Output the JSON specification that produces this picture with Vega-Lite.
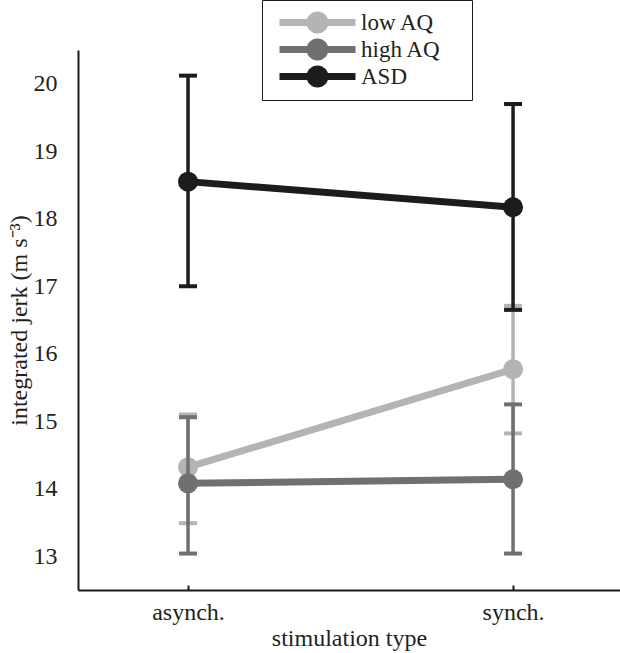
{
  "$schema": "https://vega.github.io/schema/vega-lite/v6.json",
  "width": 542,
  "height": 540,
  "autosize": "none",
  "padding": {"left": 78, "top": 50, "right": 0, "bottom": 63},
  "background": "white",
  "config": {
    "view": {"stroke": null},
    "font": "Liberation Serif",
    "axis": {"grid": false, "domainColor": "#1a1a1a", "domainWidth": 2, "labelFont": "Liberation Serif", "titleFont": "Liberation Serif", "labelColor": "#231f20", "titleColor": "#231f20", "labelFontSize": 24, "titleFontSize": 24, "titleFontWeight": "normal"}
  },
  "data": {"values": [
    {"group": "low AQ", "x": 1, "mean": 14.32, "lo": 13.49, "hi": 15.10},
    {"group": "low AQ", "x": 2, "mean": 15.77, "lo": 14.82, "hi": 16.71},
    {"group": "high AQ", "x": 1, "mean": 14.08, "lo": 13.04, "hi": 15.06},
    {"group": "high AQ", "x": 2, "mean": 14.14, "lo": 13.04, "hi": 15.25},
    {"group": "ASD", "x": 1, "mean": 18.55, "lo": 17.00, "hi": 20.12},
    {"group": "ASD", "x": 2, "mean": 18.17, "lo": 16.65, "hi": 19.70}
  ]},
  "encoding": {
    "x": {"field": "x", "type": "quantitative", "scale": {"domain": [0.6615, 2.329], "nice": false, "zero": false},
      "axis": {"values": [1, 2], "labelExpr": "datum.value == 1 ? 'asynch.' : 'synch.'", "title": "stimulation type", "tickSize": -5, "tickColor": "#1a1a1a", "tickWidth": 2, "labelPadding": 15, "titlePadding": 2, "labelFlush": false}}
  },
  "layer": [
    {
      "transform": [{"filter": "datum.group === 'low AQ'"}],
      "layer": [
        {"mark": {"type": "line", "color": "#b4b4b4", "strokeWidth": 7}, "encoding": {"y": {"field": "mean", "type": "quantitative", "scale": {"domain": [12.5, 20.5], "nice": false, "zero": false}, "axis": {"values": [13,14,15,16,17,18,19,20], "format": "d", "ticks": false, "title": "integrated jerk (m s⁻³)", "labelPadding": 21, "titlePadding": 2}}}},
        {"mark": {"type": "rule", "color": "#b4b4b4", "strokeWidth": 3.5}, "encoding": {"y": {"field": "lo", "type": "quantitative"}, "y2": {"field": "hi"}}},
        {"mark": {"type": "tick", "orient": "horizontal", "color": "#b4b4b4", "size": 18, "thickness": 4, "opacity": 1}, "encoding": {"y": {"field": "lo", "type": "quantitative"}}},
        {"mark": {"type": "tick", "orient": "horizontal", "color": "#b4b4b4", "size": 18, "thickness": 4, "opacity": 1}, "encoding": {"y": {"field": "hi", "type": "quantitative"}}},
        {"mark": {"type": "point", "filled": true, "size": 400, "opacity": 1, "strokeWidth": 0}, "encoding": {"y": {"field": "mean", "type": "quantitative"},
          "color": {"field": "group", "type": "nominal", "scale": {"domain": ["low AQ", "high AQ", "ASD"], "range": ["#b4b4b4", "#707070", "#1c1c1c"]},
            "legend": {"title": "\u2003", "titleOrient": "right", "titlePadding": 20, "titleFontSize": 23, "orient": "none", "legendX": 184, "legendY": -50, "symbolType": "M-3.8,-0.35H3.8V0.35H-3.8Z M1.1,0A1.1,1.1 0 1,1 -1.1,0A1.1,1.1 0 1,1 1.1,0Z", "symbolSize": 400, "symbolStrokeWidth": 0, "symbolOffset": 33, "labelOffset": 32, "labelFont": "Liberation Serif", "labelFontSize": 23, "labelColor": "#231f20", "padding": 11, "rowPadding": 3, "fillColor": "white", "strokeColor": "#1a1a1a"}}}}
      ]
    },
    {
      "transform": [{"filter": "datum.group === 'high AQ'"}],
      "layer": [
        {"mark": {"type": "line", "color": "#707070", "strokeWidth": 7}, "encoding": {"y": {"field": "mean", "type": "quantitative"}}},
        {"mark": {"type": "rule", "color": "#707070", "strokeWidth": 3.5}, "encoding": {"y": {"field": "lo", "type": "quantitative"}, "y2": {"field": "hi"}}},
        {"mark": {"type": "tick", "orient": "horizontal", "color": "#707070", "size": 18, "thickness": 4, "opacity": 1}, "encoding": {"y": {"field": "lo", "type": "quantitative"}}},
        {"mark": {"type": "tick", "orient": "horizontal", "color": "#707070", "size": 18, "thickness": 4, "opacity": 1}, "encoding": {"y": {"field": "hi", "type": "quantitative"}}},
        {"mark": {"type": "point", "filled": true, "size": 400, "opacity": 1, "strokeWidth": 0}, "encoding": {"y": {"field": "mean", "type": "quantitative"}, "color": {"field": "group", "type": "nominal"}}}
      ]
    },
    {
      "transform": [{"filter": "datum.group === 'ASD'"}],
      "layer": [
        {"mark": {"type": "line", "color": "#1c1c1c", "strokeWidth": 7}, "encoding": {"y": {"field": "mean", "type": "quantitative"}}},
        {"mark": {"type": "rule", "color": "#1c1c1c", "strokeWidth": 3.5}, "encoding": {"y": {"field": "lo", "type": "quantitative"}, "y2": {"field": "hi"}}},
        {"mark": {"type": "tick", "orient": "horizontal", "color": "#1c1c1c", "size": 18, "thickness": 4, "opacity": 1}, "encoding": {"y": {"field": "lo", "type": "quantitative"}}},
        {"mark": {"type": "tick", "orient": "horizontal", "color": "#1c1c1c", "size": 18, "thickness": 4, "opacity": 1}, "encoding": {"y": {"field": "hi", "type": "quantitative"}}},
        {"mark": {"type": "point", "filled": true, "size": 400, "opacity": 1, "strokeWidth": 0}, "encoding": {"y": {"field": "mean", "type": "quantitative"}, "color": {"field": "group", "type": "nominal"}}}
      ]
    }
  ]
}
